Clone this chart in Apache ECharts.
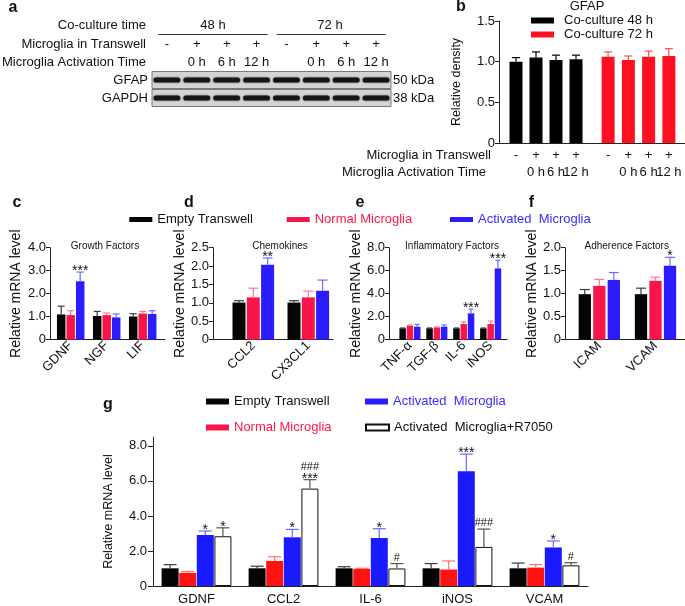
<!DOCTYPE html>
<html><head><meta charset="utf-8">
<script src="https://cdn.jsdelivr.net/npm/echarts@6/dist/echarts.min.js"></script>
<style>html,body{margin:0;padding:0;background:#fff}#chart{width:685px;height:606px}</style>
</head><body><div id="chart"></div>
<script>
// ================= DATA =================
// Panel a (western blot)
const blotCoculture = ['48 h', '72 h'];
const blotTranswell = ['-', '+', '+', '+', '-', '+', '+', '+'];
const blotActivation = ['', '0 h', '6 h', '12 h', '', '0 h', '6 h', '12 h'];
const blotRowGFAP = ['GFAP'];
const blotRowGAPDH = ['GAPDH'];
const blotKdaGFAP = ['50 kDa'];
const blotKdaGAPDH = ['38 kDa'];
const blotIntensityGFAP = [0.95, 0.95, 0.95, 0.95, 1.0, 0.95, 1.0, 1.0];
const blotIntensityGAPDH = [0.95, 0.95, 0.95, 0.95, 0.95, 0.95, 0.95, 0.95];

// Panel b
const bTranswell = ['-', '+', '+', '+'];
const bActivation = ['', '0 h', '6 h', '12 h'];
const b48 = [1.00, 1.05, 1.02, 1.03];
const b48Err = [0.05, 0.07, 0.06, 0.05];
const b72 = [1.06, 1.02, 1.06, 1.07];
const b72Err = [0.06, 0.05, 0.07, 0.09];

// Panel c - Growth Factors
const cCats = ['GDNF', 'NGF', 'LIF'];
const cEmpty = [1.10, 1.03, 1.01];       const cEmptyErr = [0.36, 0.20, 0.12];
const cNormal = [1.07, 1.07, 1.14];      const cNormalErr = [0.19, 0.09, 0.09];
const cActivated = [2.54, 0.97, 1.12];   const cActivatedErr = [0.40, 0.15, 0.14];
const cSigActivated = ['***', '', ''];

// Panel d - Chemokines
const dCats = ['CCL2', 'CX3CL1'];
const dEmpty = [1.01, 1.01];       const dEmptyErr = [0.05, 0.05];
const dNormal = [1.15, 1.15];      const dNormalErr = [0.25, 0.17];
const dActivated = [2.04, 1.33];   const dActivatedErr = [0.18, 0.29];
const dSigActivated = ['**', ''];

// Panel e - Inflammatory Factors
const eCats = ['TNF-α', 'TGF-β', 'IL-6', 'iNOS'];
const eEmpty = [0.99, 0.99, 0.99, 0.99];     const eEmptyErr = [0.03, 0.03, 0.03, 0.03];
const eNormal = [1.22, 1.07, 1.36, 1.36];    const eNormalErr = [0.06, 0.04, 0.18, 0.26];
const eActivated = [1.13, 1.13, 2.29, 6.20]; const eActivatedErr = [0.20, 0.15, 0.38, 0.70];
const eSigActivated = ['', '', '***', '***'];

// Panel f - Adherence Factors
const fCats = ['ICAM', 'VCAM'];
const fEmpty = [0.99, 0.99];       const fEmptyErr = [0.10, 0.13];
const fNormal = [1.17, 1.28];      const fNormalErr = [0.14, 0.08];
const fActivated = [1.30, 1.61];   const fActivatedErr = [0.16, 0.18];
const fSigActivated = ['', '*'];

// Panel g
const gCats = ['GDNF', 'CCL2', 'IL-6', 'iNOS', 'VCAM'];
const gEmpty = [1.01, 1.01, 1.01, 1.01, 1.01];      const gEmptyErr = [0.21, 0.12, 0.09, 0.27, 0.30];
const gNormal = [0.75, 1.43, 0.98, 0.94, 1.05];     const gNormalErr = [0.08, 0.24, 0.03, 0.49, 0.17];
const gActivated = [2.91, 2.78, 2.74, 6.55, 2.20];  const gActivatedErr = [0.23, 0.45, 0.53, 0.98, 0.37];
const gR7050 = [2.84, 5.56, 1.00, 2.23, 1.18];      const gR7050Err = [0.48, 0.51, 0.28, 1.02, 0.15];
const gStarActivated = ['*', '*', '*', '***', '*'];
const gStarR7050 = ['*', '***', '', '', ''];
const gHashR7050 = ['', '###', '#', '###', '#'];
const gTicks = [0, 2, 4, 6, 8];

// ================= STYLE =================
const FONT = "'Liberation Sans', Arial, Helvetica, sans-serif";
const AX = '#222', TXT = '#111';
const N_EMPTY = 'Empty Transwell', N_NORMAL = 'Normal Microglia', N_ACT = 'Activated  Microglia', N_R = 'Activated  Microglia+R7050';
const C_BLACK = '#050505', C_RED = '#f7154a', C_BLUE = '#2a1cff';
const E_BLACK = '#3a3a3a', E_RED = '#ff7890', E_BLUE = '#7068ff';
const G_RED = '#ff1212', G_BLUE = '#1a1aff';

const grids = [], xAxes = [], yAxes = [], series = [];
const fmt = v => v === 0 ? '0' : v.toFixed(1);

function addFrame(box, yMax, yInterval, yName, nameGap, nameSize) {
  grids.push({left: box[0], top: box[1], width: box[2], height: box[3]});
  const gi = grids.length - 1;
  xAxes.push({gridIndex: gi, type: 'value', min: 0, max: 1, axisLine: {show: true, onZero: false, lineStyle: {color: AX, width: 1}},
    axisTick: {show: false}, axisLabel: {show: false}, splitLine: {show: false}});
  yAxes.push({gridIndex: gi, type: 'value', min: 0, max: yMax, interval: yInterval, name: yName, nameLocation: 'middle', nameGap: nameGap,
    nameTextStyle: {fontSize: nameSize, color: TXT, fontFamily: FONT},
    axisLine: {show: true, onZero: false, lineStyle: {color: AX, width: 1}}, axisTick: {show: true, length: 4, lineStyle: {color: AX}},
    axisLabel: {fontSize: 13, color: TXT, margin: 4, formatter: fmt, fontFamily: FONT}, splitLine: {show: false}});
}

function addBarGrid(box, cats, yMax, label) {
  grids.push({left: box[0], top: box[1], width: box[2], height: box[3]});
  const gi = grids.length - 1;
  xAxes.push({gridIndex: gi, type: 'category', data: cats, axisLine: {show: false}, axisTick: {show: false},
    axisLabel: Object.assign({interval: 0, color: TXT, fontFamily: FONT, fontSize: 13}, label)});
  yAxes.push({gridIndex: gi, type: 'value', min: 0, max: yMax, show: false, splitLine: {show: false}});
  return {xi: xAxes.length - 1, yi: yAxes.length - 1};
}

function errSeries(ax, means, errs, offset, cap, color, stars, hashes) {
  return {
    type: 'custom', xAxisIndex: ax.xi, yAxisIndex: ax.yi, z: 6, silent: true, animation: false,
    data: means.map((m, i) => [i, m, m + errs[i]]),
    renderItem(params, api) {
      const idx = params.dataIndex;
      const b = api.coord([api.value(0), api.value(1)]);
      const t = api.coord([api.value(0), api.value(2)]);
      const x = b[0] + offset;
      const ch = [
        {type: 'line', shape: {x1: x, y1: b[1], x2: x, y2: t[1]}, style: {stroke: color, lineWidth: 1.2}},
        {type: 'line', shape: {x1: x - cap / 2, y1: t[1], x2: x + cap / 2, y2: t[1]}, style: {stroke: color, lineWidth: 1.2}}
      ];
      const hasStar = stars && stars[idx];
      if (hasStar) ch.push({type: 'text', x: x, y: t[1] - 1, style: {text: stars[idx], font: '14px ' + FONT, fill: '#111',
        textAlign: 'center', textVerticalAlign: 'middle', align: 'center', verticalAlign: 'middle'}});
      if (hashes && hashes[idx]) ch.push({type: 'text', x: x, y: t[1] - (hasStar ? 13 : 6), style: {text: hashes[idx], font: '11px ' + FONT, fill: '#111',
        textAlign: 'center', textVerticalAlign: 'middle', align: 'center', verticalAlign: 'middle'}});
      return {type: 'group', children: ch};
    }
  };
}

function addBars(ax, groups, w, gap, cap) {
  const n = groups.length;
  groups.forEach((g, k) => {
    const off = (k - (n - 1) / 2) * (w + gap);
    series.push({type: 'bar', name: g.name, xAxisIndex: ax.xi, yAxisIndex: ax.yi, data: g.data, barWidth: w,
      barGap: (gap / w * 100).toFixed(1) + '%', silent: true, animation: false, z: 2,
      itemStyle: g.border ? {color: g.color, borderColor: g.border, borderWidth: 1} : {color: g.color}});
    series.push(errSeries(ax, g.data, g.err, off, cap, g.errColor, g.stars, g.hashes));
  });
}

// ================= PANEL a: blot =================
function addBlot(top, rowName, kda, intens, showLanes) {
  grids.push({left: 152, top: top, width: 239, height: 17, show: true, backgroundColor: '#d4d4d4', borderColor: '#7a7a7a', borderWidth: 1});
  const gi = grids.length - 1;
  xAxes.push({gridIndex: gi, type: 'category', position: 'top', data: blotTranswell.map((s, i) => s + '\n' + blotActivation[i]),
    axisLine: {show: false}, axisTick: {show: false},
    axisLabel: {show: showLanes, interval: 0, margin: 0, fontSize: 13, lineHeight: 18, color: TXT, fontFamily: FONT}});
  const xi = xAxes.length - 1;
  yAxes.push({gridIndex: gi, type: 'category', data: rowName, axisLine: {show: false}, axisTick: {show: false},
    axisLabel: {fontSize: 13, margin: 4, color: TXT, fontFamily: FONT}});
  const yi = yAxes.length - 1;
  yAxes.push({gridIndex: gi, type: 'category', position: 'right', data: kda, axisLine: {show: false}, axisTick: {show: false},
    axisLabel: {fontSize: 13, margin: 2, color: TXT, fontFamily: FONT}});
  series.push({type: 'custom', xAxisIndex: xi, yAxisIndex: yi, silent: true, animation: false,
    data: intens.map((v, i) => [i, 0, v]),
    renderItem(params, api) {
      const p = api.coord([api.value(0), 0]);
      const bw = api.size([1, 0])[0] * 0.9;
      return {type: 'rect', shape: {x: p[0] - bw / 2, y: p[1] - 2.6, width: bw, height: 5.2, r: 2.6},
        style: {fill: 'rgba(18,18,18,' + api.value(2) + ')', shadowBlur: 2, shadowColor: 'rgba(0,0,0,0.6)'}};
    }});
}
addBlot(71.5, blotRowGFAP, blotKdaGFAP, blotIntensityGFAP, true);
addBlot(89.5, blotRowGAPDH, blotKdaGAPDH, blotIntensityGAPDH, false);

// ================= PANEL b =================
addFrame([499, 21, 186, 122], 1.5, 0.5, 'Relative density', 36, 12.5);
const bLab = {margin: 3.5, lineHeight: 17, fontSize: 13};
const b48Ax = addBarGrid([506, 21, 80, 122], bTranswell.map((s, i) => s + '\n' + bActivation[i]), 1.5, bLab);
addBars(b48Ax, [{name: 'Co-culture 48 h', data: b48, err: b48Err, color: '#000', errColor: '#000'}], 13, 0, 8);
const b72Ax = addBarGrid([598, 21, 81, 122], bTranswell.map((s, i) => s + '\n' + bActivation[i]), 1.5, bLab);
addBars(b72Ax, [{name: 'Co-culture 72 h', data: b72, err: b72Err, color: '#ff1020', errColor: '#ff4a55'}], 13, 0, 8);

// ================= PANELS c-f =================
const rotLab = {rotate: 45, margin: 4, fontSize: 13};
const YN = 'Relative mRNA level';
function cfGroups(em, emE, no, noE, ac, acE, sig) {
  return [
    {name: N_EMPTY, data: em, err: emE, color: C_BLACK, errColor: E_BLACK},
    {name: N_NORMAL, data: no, err: noE, color: C_RED, errColor: E_RED},
    {name: N_ACT, data: ac, err: acE, color: C_BLUE, errColor: E_BLUE, stars: sig}
  ];
}
addFrame([50, 247.7, 115, 92], 4, 1, YN, 27, 14);
addBars(addBarGrid([52.7, 247.7, 108, 92], cCats, 4, rotLab), cfGroups(cEmpty, cEmptyErr, cNormal, cNormalErr, cActivated, cActivatedErr, cSigActivated), 8.5, 1, 7);
addFrame([213, 247.7, 120, 92], 2.5, 0.5, YN, 20, 14);
addBars(addBarGrid([225.8, 247.7, 110, 92], dCats, 2.5, rotLab), cfGroups(dEmpty, dEmptyErr, dNormal, dNormalErr, dActivated, dActivatedErr, dSigActivated), 13, 1.3, 10);
addFrame([389, 247.7, 118, 92], 8, 2, YN, 22, 14);
addBars(addBarGrid([396.5, 247.7, 107.6, 92], eCats, 8, rotLab), cfGroups(eEmpty, eEmptyErr, eNormal, eNormalErr, eActivated, eActivatedErr, eSigActivated), 6.5, 0.8, 5);
addFrame([565, 247.7, 120, 92], 2, 0.5, YN, 26, 14);
addBars(addBarGrid([571.2, 247.7, 112.4, 92], fCats, 2, rotLab), cfGroups(fEmpty, fEmptyErr, fNormal, fNormalErr, fActivated, fActivatedErr, fSigActivated), 12.3, 2.2, 10);

// ================= PANEL g =================
grids.push({left: 153, top: 437.1, width: 435, height: 150.9});
const gGi = grids.length - 1;
xAxes.push({gridIndex: gGi, type: 'category', data: gCats, axisLine: {show: true, lineStyle: {color: AX}}, axisTick: {show: false},
  axisLabel: {interval: 0, margin: 7, fontSize: 13, color: TXT, fontFamily: FONT}});
yAxes.push({gridIndex: gGi, type: 'value', min: 0, max: 8.5, interval: 2, name: YN, nameLocation: 'middle', nameGap: 38,
  nameTextStyle: {fontSize: 12.5, color: TXT, fontFamily: FONT},
  axisLine: {show: true, lineStyle: {color: AX}}, axisTick: {show: true, length: 5, customValues: gTicks, lineStyle: {color: AX}},
  axisLabel: {customValues: gTicks, fontSize: 13, margin: 6, color: TXT, fontFamily: FONT, formatter: fmt}, splitLine: {show: false}});
addBars({xi: xAxes.length - 1, yi: yAxes.length - 1}, [
  {name: N_EMPTY, data: gEmpty, err: gEmptyErr, color: C_BLACK, errColor: E_BLACK},
  {name: N_NORMAL, data: gNormal, err: gNormalErr, color: G_RED, errColor: '#ff7070'},
  {name: N_ACT, data: gActivated, err: gActivatedErr, color: G_BLUE, errColor: '#6a6aff', stars: gStarActivated},
  {name: N_R, data: gR7050, err: gR7050Err, color: '#fff', border: '#111', errColor: '#555', stars: gStarR7050, hashes: gHashR7050}
], 17, 0.6, 13);

// ================= LEGENDS =================
const L = (data, left, top, extra) => Object.assign({data: data, left: left, top: top, padding: 0, itemWidth: 23, itemHeight: 5,
  selectedMode: false, icon: 'rect', textStyle: {fontSize: 13, color: TXT, fontFamily: FONT}}, extra || {});
const redT = {textStyle: {color: '#ff1744'}}, blueT = {textStyle: {color: '#3a2bff'}};
const legends = [
  L([N_EMPTY], 129.3, 213),
  L([Object.assign({name: N_NORMAL}, redT)], 286.7, 213),
  L([Object.assign({name: N_ACT}, blueT)], 450, 213),
  L([N_EMPTY], 206, 395, {itemHeight: 6}),
  L([Object.assign({name: N_ACT}, blueT)], 365, 395, {itemHeight: 6}),
  L([Object.assign({name: N_NORMAL}, redT)], 206, 421, {itemHeight: 6}),
  L([N_R], 365, 421, {itemHeight: 6}),
  L(['Co-culture 48 h'], 531, 14, {itemHeight: 6, textStyle: {fontSize: 13, color: TXT, fontFamily: FONT, padding: [0, 0, 0, 5]}}),
  L(['Co-culture 72 h'], 531, 28, {itemHeight: 6, textStyle: {fontSize: 13, color: TXT, fontFamily: FONT, padding: [0, 0, 0, 5]}})
];

// ================= GRAPHIC TEXT =================
function T(x, y, text, font, align) {
  return {type: 'text', x: x, y: y, silent: true, style: {text: text, font: font, fill: TXT, textAlign: align || 'center',
    textVerticalAlign: 'middle', align: align || 'center', verticalAlign: 'middle'}};
}
const B16 = 'bold 16px ' + FONT, F13 = '13px ' + FONT, F10 = '10px ' + FONT;
const graphics = [
  T(13, 8, 'a', B16), T(461, 7, 'b', B16), T(17, 202.5, 'c', B16), T(189, 202.5, 'd', B16),
  T(360, 202.5, 'e', B16), T(531.5, 202.5, 'f', B16), T(108, 405, 'g', B16),
  T(146, 25, 'Co-culture time', F13, 'right'),
  T(146, 44.3, 'Microglia in Transwell', F13, 'right'),
  T(146, 62.3, 'Microglia Activation Time', F13, 'right'),
  T(213, 25, blotCoculture[0], F13), T(330, 25, blotCoculture[1], F13),
  {type: 'line', silent: true, shape: {x1: 158.3, y1: 34.5, x2: 267.7, y2: 34.5}, style: {stroke: '#333', lineWidth: 1}},
  {type: 'line', silent: true, shape: {x1: 276.7, y1: 34.5, x2: 385.7, y2: 34.5}, style: {stroke: '#333', lineWidth: 1}},
  T(587, 6, 'GFAP', F13),
  T(491, 155, 'Microglia in Transwell', F13, 'right'),
  T(486, 172, 'Microglia Activation Time', F13, 'right'),
  T(105, 246, 'Growth Factors', F10), T(280, 246, 'Chemokines', F10),
  T(452, 246, 'Inflammatory Factors', F10), T(626.7, 246, 'Adherence Factors', F10)
];

const chart = echarts.init(document.getElementById('chart'), null, {renderer: 'canvas'});
chart.setOption({
  animation: false,
  backgroundColor: '#fff',
  textStyle: {fontFamily: FONT},
  grid: grids, xAxis: xAxes, yAxis: yAxes, series: series,
  legend: legends,
  graphic: {elements: graphics}
});
</script>
</body></html>
